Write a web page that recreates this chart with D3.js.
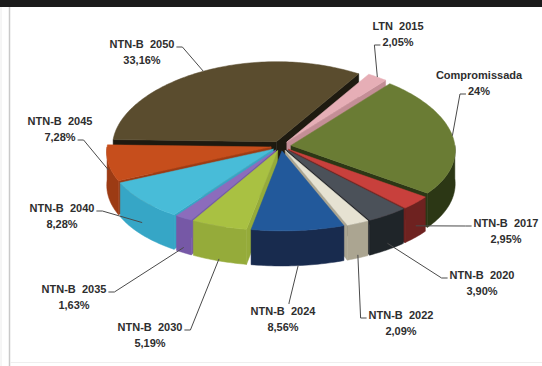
<!DOCTYPE html>
<html><head><meta charset="utf-8">
<script src="https://cdn.jsdelivr.net/npm/d3@7/dist/d3.min.js"></script>
<style>body{margin:0;background:#fff}svg{display:block}</style>
</head><body>
<svg id="c" width="542" height="366"></svg>
<script>
// ---- data ----
const categories = ["LTN 2015","Compromissada","NTN-B 2017","NTN-B 2020","NTN-B 2022","NTN-B 2024","NTN-B 2030","NTN-B 2035","NTN-B 2040","NTN-B 2045","NTN-B 2050"];
const values = [2.05, 24, 2.95, 3.90, 2.09, 8.56, 5.19, 1.63, 8.28, 7.28, 33.16];
const valueLabels = ["2,05%","24%","2,95%","3,90%","2,09%","8,56%","5,19%","1,63%","8,28%","7,28%","33,16%"];
const topColors  = ["#e6aeb6","#6a7c34","#c8403c","#4b5159","#e6e2d2","#22599b","#a9c142","#8c6cbc","#48bcd8","#c64e1c","#5a4c2e"];
const sideColors = ["#c48e96","#2c3715","#6e2220","#1f2529","#aba591","#182b4e","#95ab3a","#7658a6","#36a6c6","#9c3b14","#1e1a10"];
// label layout (text centre of first line, and where the leader leaves the text)
const labelPos = [[398,26],[479,75],[506,223],[482,275],[401,315],[283,311],[150,327],[74,289],[62,208],[60,121],[142,44]];
const labelAnchor = ["l2","l2","l1","l1","l1","top","r1","r1","r1","r2","r1"];

// ---- geometry ----
const W=542,H=366;
const cx=281, cy=146, rx=164, ry=80, depth=33, explodePx=10, persp=0.06;
const xs = d3.scaleLinear().domain([-1,1]).range([cx-rx,cx+rx]);
const ys = d3.scaleLinear().domain([-1,1]).range([cy-ry,cy+ry]);
const start = 32*Math.PI/180;
const arcs = d3.pie().sort(null).value(d=>d).startAngle(start).endAngle(start+2*Math.PI)(values);
const e = explodePx/rx;

const svg = d3.select("#c");
// frame
svg.append("rect").attr("x",0).attr("y",0).attr("width",W).attr("height",H).attr("fill","#fff");
svg.append("rect").attr("x",0).attr("y",0).attr("width",W).attr("height",7).attr("fill","#1b1b1b");
svg.append("line").attr("x1",9.5).attr("x2",9.5).attr("y1",7).attr("y2",H).attr("stroke","#c9c9c9").attr("stroke-width",1.5);
svg.append("line").attr("x1",1).attr("x2",1).attr("y1",7).attr("y2",H).attr("stroke","#ececec").attr("stroke-width",1);
svg.append("line").attr("x1",10).attr("x2",W).attr("y1",362.5).attr("y2",362.5).attr("stroke","#eeeeee").attr("stroke-width",1);

function P(a,r,off,dz){
  const X=r*Math.sin(a)+off[0], Y=-r*Math.cos(a)+off[1];
  const f=1+persp*Y;
  return [xs(X*f), ys(Y)+dz*f];
}
function arcPts(a0,a1,off,dz){
  const n=Math.max(2,Math.ceil(Math.abs(a1-a0)/0.02));
  const pts=[];
  for(let i=0;i<=n;i++){ const a=a0+(a1-a0)*i/n; pts.push(P(a,1,off,dz)); }
  return pts;
}
const line = d3.line();
const faces=[], walls=[], tops=[];
arcs.forEach((d,i)=>{
  const mid=(d.startAngle+d.endAngle)/2;
  const off=[e*Math.sin(mid), -e*Math.cos(mid)];
  d.off=off; d.mid=mid;
  tops.push({i, pts:[P(0,0,off,0)].concat(arcPts(d.startAngle,d.endAngle,off,0))});
  const addFace=(a)=>{
    const pts=[P(a,0,off,0),P(a,1,off,0),P(a,1,off,depth),P(a,0,off,depth)];
    faces.push({i, pts, key:(-0.5*Math.cos(a)+off[1])});
  };
  if(Math.sin(d.startAngle)<0) addFace(d.startAngle);
  if(Math.sin(d.endAngle)>0) addFace(d.endAngle);
  const s=Math.max(d.startAngle,Math.PI/2), t=Math.min(d.endAngle,3*Math.PI/2);
  if(t>s){
    const topA=arcPts(s,t,off,0), botA=arcPts(s,t,off,depth).reverse();
    walls.push({i, pts:topA.concat(botA), key:(-Math.cos((s+t)/2)+off[1])});
  }
});
faces.sort((a,b)=>a.key-b.key);
walls.sort((a,b)=>a.key-b.key);
const g=svg.append("g");
g.selectAll("path.face").data(faces).join("path").attr("class","face")
  .attr("d",d=>line(d.pts)+"Z").attr("fill",d=>sideColors[d.i]).attr("stroke",d=>sideColors[d.i]).attr("stroke-width",0.5);
g.selectAll("path.wall").data(walls).join("path").attr("class","wall")
  .attr("d",d=>line(d.pts)+"Z").attr("fill",d=>sideColors[d.i]).attr("stroke",d=>sideColors[d.i]).attr("stroke-width",0.5);
g.selectAll("path.top").data(tops).join("path").attr("class","top")
  .attr("d",d=>line(d.pts)+"Z").attr("fill",d=>topColors[d.i]).attr("stroke",d=>topColors[d.i]).attr("stroke-width",0.5);

// labels
const lg=svg.append("g").attr("font-family","'Liberation Sans', Arial, sans-serif").attr("font-weight","bold").attr("font-size","11px").attr("fill","#2e2e2e");
arcs.forEach((d,i)=>{
  const [x,y]=labelPos[i];
  const t1=lg.append("text").attr("x",x).attr("y",y).attr("text-anchor","middle").attr("dominant-baseline","central")
    .style("white-space","pre").text(categories[i].replace(" ","  "));
  const t2=lg.append("text").attr("x",x).attr("y",y+16).attr("text-anchor","middle").attr("dominant-baseline","central").text(valueLabels[i]);
  const w1=t1.node().getComputedTextLength(), w2=t2.node().getComputedTextLength();
  const dz=depth*Math.max(0,-Math.cos(d.mid));
  const tgt=P(d.mid,1,d.off,dz);
  let s, stub;
  const an=labelAnchor[i];
  if(an==="r1"){ s=[x+w1/2+2,y+3]; stub=[s[0]+6,s[1]]; }
  else if(an==="r2"){ s=[x+w2/2+2,y+19]; stub=[s[0]+6,s[1]]; }
  else if(an==="l1"){ s=[x-w1/2-2,y+3]; stub=[s[0]-6,s[1]]; }
  else if(an==="l2"){ s=[x-w2/2-2,y+19]; stub=[s[0]-6,s[1]]; }
  else { s=[x+6,y-7]; stub=[x+6,y-8]; }
  svg.append("path").attr("d",line([s,stub,tgt])).attr("fill","none").attr("stroke","#4a4a4a").attr("stroke-width",1);
});
</script>
</body></html>
